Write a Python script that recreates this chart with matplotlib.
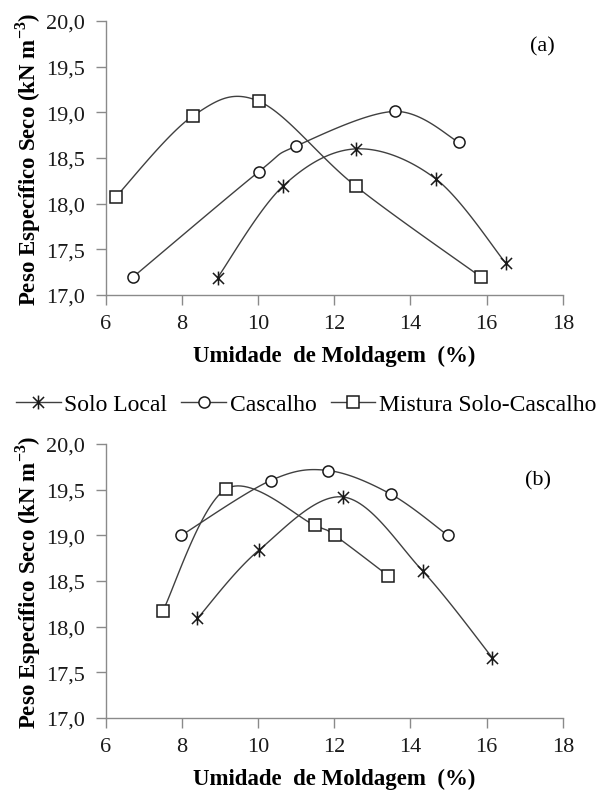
import matplotlib
matplotlib.use("Agg")
import matplotlib.pyplot as plt
import numpy as np
from matplotlib.path import Path

plt.rcParams["font.family"] = ["Liberation Serif", "DejaVu Serif"]
plt.rcParams["mathtext.fontset"] = "custom"
plt.rcParams["mathtext.rm"] = "Liberation Serif"
plt.rcParams["mathtext.bf"] = "Liberation Serif:bold"

# (a)
umid_solo_a = [8.94, 10.65, 12.57, 14.67, 16.50]
peso_solo_a = [17.19, 18.19, 18.60, 18.27, 17.35]
umid_casc_a = [6.73, 10.02, 11.00, 13.59, 15.28]
peso_casc_a = [17.20, 18.35, 18.63, 19.01, 18.67]
umid_mist_a = [6.26, 8.29, 10.03, 12.57, 15.84]
peso_mist_a = [18.07, 18.96, 19.12, 18.19, 17.20]

# (b)
umid_solo_b = [8.41, 10.03, 12.24, 14.32, 16.15]
peso_solo_b = [18.09, 18.84, 19.42, 18.61, 17.66]
umid_casc_b = [7.99, 10.33, 11.84, 13.49, 14.98]
peso_casc_b = [19.00, 19.60, 19.71, 19.45, 19.00]
umid_mist_b = [7.50, 9.17, 11.49, 12.01, 13.41]
peso_mist_b = [18.17, 19.51, 19.11, 19.00, 18.56]

nomes = ["Solo Local", "Cascalho", "Mistura Solo-Cascalho"]
yticks = [17.0, 17.5, 18.0, 18.5, 19.0, 19.5, 20.0]
xticks = [6, 8, 10, 12, 14, 16, 18]

# marcador estrela tipo excel (vertical + X)
estrela = Path([(0, -1), (0, 1), (-0.8, -0.8), (0.8, 0.8), (-0.8, 0.8), (0.8, -0.8)],
               [Path.MOVETO, Path.LINETO, Path.MOVETO, Path.LINETO, Path.MOVETO, Path.LINETO])


def suave(x, y, n=30):
    # curva suavizada (bezier tipo excel)
    p = np.column_stack([x, y]).astype(float)
    pts = np.vstack([p[0], p, p[-1]])
    out = []
    t = np.linspace(0, 1, n)[:, None]
    for i in range(1, len(pts) - 2):
        p0, p1, p2, p3 = pts[i - 1], pts[i], pts[i + 1], pts[i + 2]
        c1 = p1 + (p2 - p0) / 6
        c2 = p2 - (p3 - p1) / 6
        seg = (1 - t) ** 3 * p1 + 3 * (1 - t) ** 2 * t * c1 + 3 * (1 - t) * t ** 2 * c2 + t ** 3 * p2
        out.append(seg if i == 1 else seg[1:])
    out = np.vstack(out)
    return out[:, 0], out[:, 1]


def serie(ax, x, y, marker, ms, label):
    sx, sy = suave(x, y)
    ax.plot(sx, sy, color="#404040", lw=1.0, zorder=2)
    ax.plot(x, y, ls="none", marker=marker, ms=ms, mfc="white", mec="#1a1a1a",
            mew=1.1, zorder=3)
    # handle da legenda
    return ax.plot([], [], color="#404040", lw=1.0, marker=marker, ms=ms,
                   mfc="white", mec="#1a1a1a", mew=1.1, label=label)[0]


fig = plt.figure(figsize=(6, 8.03), dpi=100)
ax1 = fig.add_axes([0.176, 0.6314, 0.762, 0.3412])
ax2 = fig.add_axes([0.176, 0.1046, 0.762, 0.3412])

dados = [
    (ax1, [(umid_solo_a, peso_solo_a), (umid_casc_a, peso_casc_a), (umid_mist_a, peso_mist_a)], "(a)", 0.955, 0.91),
    (ax2, [(umid_solo_b, peso_solo_b), (umid_casc_b, peso_casc_b), (umid_mist_b, peso_mist_b)], "(b)", 0.945, 0.87),
]
marcadores = [(estrela, 10), ("o", 8), ("s", 8)]

handles = []
for ax, series, letra, tx, ty in dados:
    hs = []
    for (x, y), (mk, ms), nome in zip(series, marcadores, nomes):
        hs.append(serie(ax, x, y, mk, ms, nome))
    handles = hs
    ax.set_xlim(6, 18)
    ax.set_ylim(17, 20)
    ax.set_xticks(xticks)
    ax.set_yticks(yticks)
    ax.set_yticklabels([f"{v:.1f}".replace(".", ",") for v in yticks])
    for s in ["top", "right"]:
        ax.spines[s].set_visible(False)
    for s in ["left", "bottom"]:
        ax.spines[s].set_color("#8a8a8a")
        ax.spines[s].set_linewidth(1.0)
    ax.tick_params(direction="out", length=7, width=1.0, color="#8a8a8a",
                   labelsize=16, labelcolor="#1a1a1a")
    ax.tick_params(axis="x", pad=7)
    ax.tick_params(axis="y", pad=8)
    ax.set_xlabel("Umidade  de Moldagem  (%)", fontsize=16.5, fontweight="bold", labelpad=8)
    ax.set_ylabel("Peso Específico Seco (kN m$^{\\mathbf{-3}}$)", fontsize=16.5,
                  fontweight="bold", labelpad=2)
    ax.text(tx, ty, letra, transform=ax.transAxes, fontsize=16, ha="center", va="center")

fig.legend(handles=handles, loc="center", bbox_to_anchor=(0.51, 0.4956), ncol=3,
           frameon=False, fontsize=17, handlelength=1.9, handletextpad=0.15,
           columnspacing=0.6)

fig.savefig("out.png", dpi=100)
